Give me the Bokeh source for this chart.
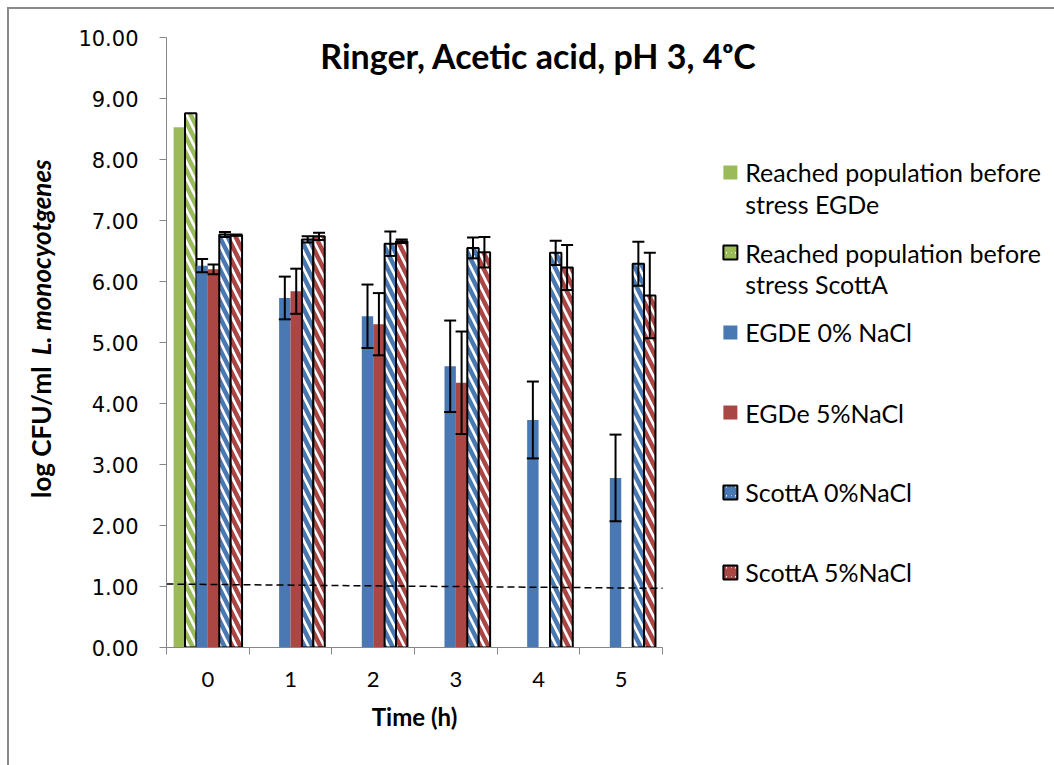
import math
from bokeh.plotting import figure
from bokeh.layouts import row
from bokeh.models import (ColumnDataSource, Whisker, TeeHead, Label, FixedTicker,
                          Range1d, PrintfTickFormatter, LinearAxis)
from bokeh.core.properties import value
from bokeh.embed import file_html
from bokeh.resources import INLINE

# ---------------- data ----------------
time_h = [0, 1, 2, 3, 4, 5]
before_time = [0]
before_egde = [8.53]
before_scotta = [8.76]
egde_0 = [6.26, 5.73, 5.43, 4.61, 3.73, 2.78]
egde_0_err = [0.11, 0.35, 0.52, 0.75, 0.63, 0.71]
egde_5_time = [0, 1, 2, 3]
egde_5 = [6.20, 5.84, 5.30, 4.34]
egde_5_err = [0.08, 0.37, 0.51, 0.84]
scotta_0 = [6.77, 6.69, 6.62, 6.55, 6.47, 6.29]
scotta_0_err = [0.04, 0.05, 0.20, 0.17, 0.20, 0.36]
scotta_5 = [6.76, 6.74, 6.66, 6.48, 6.23, 5.77]
scotta_5_err = [0.01, 0.06, 0.03, 0.25, 0.37, 0.70]
detection_limit_x = [-0.5, 5.5]
detection_limit_y = [1.04, 0.97]
y_ticks = [0, 1, 2, 3, 4, 5, 6, 7, 8, 9, 10]

series_names = ["Reached population before stress EGDe",
                "Reached population before stress ScottA",
                "EGDE 0% NaCl", "EGDe 5%NaCl", "ScottA 0%NaCl", "ScottA 5%NaCl"]

GREEN = "#9BBB59"
BLUE = "#4A78B2"
RED = "#AA4643"
FONT = "Lato"

def bare(fig):
    fig.outline_line_color = None
    fig.xgrid.visible = False
    fig.ygrid.visible = False

# ---------------- y-axis title panel ----------------
lp = figure(width=60, height=756, output_backend="svg", toolbar_location=None,
            x_range=Range1d(0, 60), y_range=Range1d(0, 10),
            x_axis_type=None, y_axis_type=None, min_border=0,
            min_border_top=28, min_border_bottom=118)
bare(lp)
lp.add_layout(Label(x=31, y=2.45, text="log CFU/ml", angle=math.pi / 2,
                    text_font=FONT, text_font_size="26px", text_font_style="bold",
                    text_align="left", text_baseline="middle", text_color="black"))
lp.add_layout(Label(x=31, y=4.79, text="L. monocyotgenes", angle=math.pi / 2,
                    text_font=FONT, text_font_size="26px",
                    text_font_style="bold italic",
                    text_align="left", text_baseline="middle", text_color="black"))

# ---------------- main figure ----------------
p = figure(width=985, height=756, output_backend="svg", toolbar_location=None,
           x_range=Range1d(-0.5, 10.24), y_range=Range1d(0, 10),
           min_border_left=97, min_border_right=0, min_border_top=28,
           min_border_bottom=118)
bare(p)

xa = p.xaxis[0]
xa.bounds = (-0.5, 5.5)
xa.ticker = FixedTicker(ticks=time_h, minor_ticks=[-0.5, 0.5, 1.5, 2.5, 3.5, 4.5, 5.5])
xa.major_tick_out = 0
xa.major_tick_in = 0
xa.minor_tick_out = 7
xa.minor_tick_in = 0
xa.axis_line_color = "#868686"
xa.minor_tick_line_color = "#868686"
xa.major_label_text_font = FONT
xa.major_label_text_font_size = "22px"
xa.major_label_text_color = "black"
xa.major_label_standoff = 17

# second axis carrying the "Time (h)" title at the centre of the bars
xt = LinearAxis(ticker=FixedTicker(ticks=[2.5], minor_ticks=[]),
                major_label_overrides={2.5: "Time (h)"},
                axis_line_color=None, major_tick_line_color=None,
                minor_tick_line_color=None, major_label_text_font=FONT,
                major_label_text_font_size="24px",
                major_label_text_font_style="bold",
                major_label_text_color="black", major_label_standoff=6)
p.add_layout(xt, "below")

ya = p.yaxis[0]
ya.ticker = FixedTicker(ticks=y_ticks)
ya.formatter = PrintfTickFormatter(format="%.2f")
ya.major_tick_out = 7
ya.major_tick_in = 0
ya.minor_tick_line_color = None
ya.axis_line_color = "#868686"
ya.major_tick_line_color = "#868686"
ya.major_label_text_font = "DejaVu Sans"
ya.major_label_text_font_size = "21px"
ya.major_label_text_color = "black"
ya.major_label_standoff = 21

# ---------------- bars ----------------
W = 0.138
off = [(k - 2.5) * W for k in range(6)]
HS, HW = 16, 4.5

def xs(times, k):
    return [t + off[k] for t in times]

p.vbar(x=xs(before_time, 0), top=before_egde, width=W, fill_color=GREEN, line_color=None)
p.vbar(x=xs(before_time, 1), top=before_scotta, width=W, fill_color="white",
       hatch_pattern="\\", hatch_color=GREEN, hatch_scale=HS, hatch_weight=HW,
       line_color="black", line_width=2)
p.vbar(x=xs(time_h, 2), top=egde_0, width=W, fill_color=BLUE, line_color=None)
p.vbar(x=xs(egde_5_time, 3), top=egde_5, width=W, fill_color=RED, line_color=None)
p.vbar(x=xs(time_h, 4), top=scotta_0, width=W, fill_color="white",
       hatch_pattern="\\", hatch_color=BLUE, hatch_scale=HS, hatch_weight=HW,
       line_color="black", line_width=2)
p.vbar(x=xs(time_h, 5), top=scotta_5, width=W, fill_color="white",
       hatch_pattern="\\", hatch_color=RED, hatch_scale=HS, hatch_weight=HW,
       line_color="black", line_width=2)

def add_err(times, k, vals, errs):
    src = ColumnDataSource(dict(x=xs(times, k),
                                upper=[v + e for v, e in zip(vals, errs)],
                                lower=[v - e for v, e in zip(vals, errs)]))
    w = Whisker(source=src, base="x", upper="upper", lower="lower",
                line_color="black", line_width=2, level="overlay",
                upper_head=TeeHead(size=12, line_color="black", line_width=2),
                lower_head=TeeHead(size=12, line_color="black", line_width=2))
    p.add_layout(w)

add_err(time_h, 2, egde_0, egde_0_err)
add_err(egde_5_time, 3, egde_5, egde_5_err)
add_err(time_h, 4, scotta_0, scotta_0_err)
add_err(time_h, 5, scotta_5, scotta_5_err)

p.line(detection_limit_x, detection_limit_y, line_color="black", line_width=1.5,
       line_dash="7 4")

# ---------------- legend (inside the frame, right of the bars) ----------------
LX = 6.32
TX = 6.50
leg_y = [7.787, 6.475, 5.164, 3.852, 2.541, 1.230]
line_gap = 0.51
for k, col in [(0, GREEN), (2, BLUE), (3, RED)]:
    p.rect(x=[LX], y=[leg_y[k]], width=14, height=14, width_units="screen",
           height_units="screen", fill_color=col, line_color=None)
for k, col in [(1, GREEN), (4, BLUE), (5, RED)]:
    p.rect(x=[LX], y=[leg_y[k]], width=14, height=14, width_units="screen",
           height_units="screen", fill_color="white", hatch_pattern="/",
           hatch_color=col, hatch_scale=9, hatch_weight=4,
           line_color="black", line_width=2)

leg_text_x = [TX] * 8
leg_text_y = [leg_y[0], leg_y[0] - line_gap, leg_y[1], leg_y[1] - line_gap,
              leg_y[2], leg_y[3], leg_y[4], leg_y[5]]
leg_text = ["Reached population before", "stress EGDe",
            "Reached population before", "stress ScottA",
            series_names[2], series_names[3], series_names[4], series_names[5]]
p.text(x=leg_text_x, y=leg_text_y, text=leg_text, text_font=value(FONT),
       text_font_size="25px", text_baseline="middle", text_align="left",
       text_color="black")

p.add_layout(Label(x=4.0, y=9.7, text="Ringer, Acetic acid, pH 3, 4ᵒC",
                   text_font=FONT, text_font_size="34px", text_font_style="bold",
                   text_align="center", text_baseline="middle", text_color="black"))

layout = row(lp, p)
layout.styles = {"margin-left": "7px", "margin-top": "7px",
                 "border-left": "2px solid #8a8a8a", "border-top": "2px solid #8a8a8a"}

open("out.html", "w").write(file_html(layout, INLINE))
